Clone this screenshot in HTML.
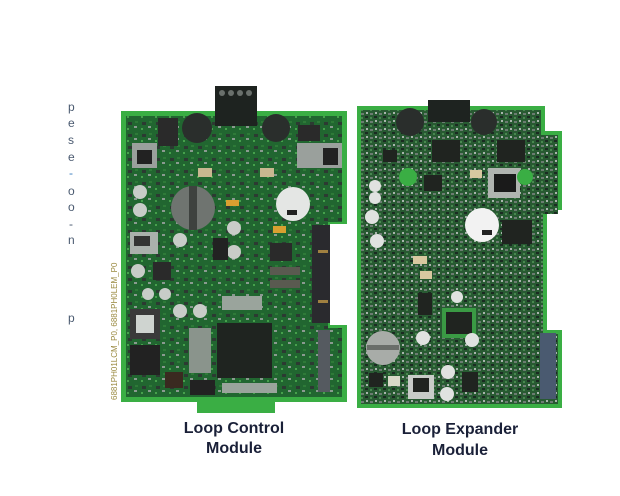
<!DOCTYPE html>
<html><head><meta charset="utf-8"><style>
html,body{margin:0;padding:0;background:#fff;}
svg{display:block;}
</style></head><body>
<svg width="620" height="496" viewBox="0 0 620 496" xmlns="http://www.w3.org/2000/svg">
<defs>
<pattern id="pa" width="14" height="12" patternUnits="userSpaceOnUse">
<rect width="14" height="12" fill="#216630"/>
<rect x="2" y="2" width="4" height="3" fill="#2c3a32"/>
<rect x="8" y="6" width="3" height="2" fill="#8a9a90"/>
<rect x="1" y="8" width="2" height="2" fill="#46a04c"/>
<rect x="9" y="1" width="3" height="2" fill="#2e7a38"/>
</pattern>
<pattern id="pb" width="9" height="8" patternUnits="userSpaceOnUse">
<rect width="9" height="8" fill="#285a32"/>
<rect x="1" y="1" width="3" height="2" fill="#6c7c72"/>
<rect x="5" y="4" width="3" height="2" fill="#1b2a22"/>
<rect x="1" y="5" width="2" height="2" fill="#48884f"/>
<rect x="6" y="0" width="2" height="2" fill="#a8b4ac"/>
</pattern>
</defs>

<g font-family="Liberation Sans, sans-serif" font-size="12" fill="#4a5a70">
<text x="68" y="111">p</text><text x="68" y="127">e</text><text x="68" y="144">s</text>
<text x="68" y="161">e</text><text x="69" y="177" fill="#3d7fc0">-</text><text x="68" y="195">o</text>
<text x="68" y="211">o</text><text x="69" y="228">-</text><text x="68" y="244">n</text>
<text x="68" y="322">p</text>
</g>
<text transform="translate(117,400) rotate(-90)" font-family="Liberation Sans, sans-serif" font-size="8" fill="#9a8a40">6881PH01LCM_P0, 6881PH0LEM_P0</text>

<!-- LEFT BOARD -->
<path d="M121 111 H347 V224 H330 V325 H347 V402 H275 V413 H197 V402 H121 Z" fill="#3aae44"/>
<path d="M126 116 H342 V222 H328 V328 H342 V397 H126 Z" fill="url(#pa)"/>
<rect x="215" y="86" width="42" height="40" fill="#1e2320"/>
<circle cx="222" cy="93" r="3" fill="#6a706c"/><circle cx="231" cy="93" r="3" fill="#6a706c"/>
<circle cx="240" cy="93" r="3" fill="#6a706c"/><circle cx="249" cy="93" r="3" fill="#6a706c"/>
<circle cx="197" cy="128" r="15" fill="#2a2e2c"/><circle cx="276" cy="128" r="14" fill="#2a2e2c"/>
<rect x="132" y="143" width="25" height="25" fill="#9aa09c"/><rect x="137" y="150" width="15" height="14" fill="#222"/>
<rect x="297" y="143" width="45" height="25" fill="#9aa09c"/><rect x="323" y="148" width="15" height="17" fill="#222"/>
<rect x="158" y="118" width="20" height="28" fill="#2a2a2a"/>
<rect x="298" y="125" width="22" height="16" fill="#2a2a2a"/>
<circle cx="193" cy="208" r="22" fill="#6f7470"/><rect x="189" y="186" width="8" height="44" fill="#3e423f"/>
<circle cx="293" cy="204" r="17" fill="#e4e6e4"/><rect x="287" y="210" width="10" height="5" fill="#222"/>
<rect x="226" y="200" width="13" height="6" fill="#d8a030"/><rect x="273" y="226" width="13" height="7" fill="#d8a030"/>
<rect x="198" y="168" width="14" height="9" fill="#c8b890"/><rect x="260" y="168" width="14" height="9" fill="#c8b890"/>
<circle cx="140" cy="192" r="7" fill="#c8ccc8"/><circle cx="140" cy="210" r="7" fill="#c8ccc8"/>
<circle cx="180" cy="240" r="7" fill="#c8ccc8"/><circle cx="234" cy="228" r="7" fill="#c8ccc8"/>
<circle cx="234" cy="252" r="7" fill="#c8ccc8"/><circle cx="138" cy="271" r="7" fill="#c8ccc8"/>
<circle cx="148" cy="294" r="6" fill="#c8ccc8"/><circle cx="165" cy="294" r="6" fill="#c8ccc8"/>
<circle cx="180" cy="311" r="7" fill="#c8ccc8"/><circle cx="200" cy="311" r="7" fill="#c8ccc8"/>
<rect x="130" y="232" width="28" height="22" fill="#aab0ac"/><rect x="134" y="236" width="16" height="10" fill="#333"/>
<rect x="153" y="262" width="18" height="18" fill="#2a2a2a"/>
<rect x="213" y="238" width="15" height="22" fill="#222"/>
<rect x="270" y="243" width="22" height="18" fill="#2a2a2a"/>
<rect x="270" y="267" width="30" height="8" fill="#5a5a50"/><rect x="270" y="280" width="30" height="8" fill="#5a5a50"/>
<rect x="312" y="225" width="18" height="98" fill="#2a2a2e"/>
<rect x="318" y="250" width="10" height="3" fill="#a08040"/><rect x="318" y="300" width="10" height="3" fill="#a08040"/>
<rect x="318" y="330" width="12" height="62" fill="#555a60"/>
<rect x="217" y="323" width="55" height="55" fill="#1f2420"/>
<rect x="222" y="296" width="40" height="14" fill="#9aa49c"/><rect x="222" y="383" width="55" height="10" fill="#9aa49c"/>
<rect x="189" y="328" width="22" height="45" fill="#8a948c"/>
<rect x="130" y="309" width="30" height="30" fill="#3a3a3a"/><rect x="136" y="315" width="18" height="18" fill="#cfd4d0"/>
<rect x="130" y="345" width="30" height="30" fill="#222"/>
<rect x="165" y="372" width="18" height="16" fill="#3a2a20"/>
<rect x="190" y="380" width="25" height="15" fill="#222"/>
<!-- RIGHT BOARD -->
<path d="M357 106 H545 V131 H562 V210 H547 V330 H562 V408 H357 Z" fill="#3aae44"/>
<path d="M361 110 H541 V135 H558 V214 H543 V334 H558 V404 H361 Z" fill="url(#pb)"/>
<rect x="428" y="100" width="42" height="22" fill="#1e2320"/>
<circle cx="410" cy="122" r="14" fill="#2a2e2c"/><circle cx="484" cy="122" r="13" fill="#2a2e2c"/>
<rect x="432" y="140" width="28" height="22" fill="#202420"/><rect x="497" y="140" width="28" height="22" fill="#202420"/>
<rect x="383" y="150" width="14" height="12" fill="#202420"/>
<rect x="488" y="168" width="32" height="30" fill="#b0b4b0"/><rect x="494" y="174" width="22" height="18" fill="#1a1a1a"/>
<circle cx="408" cy="177" r="9" fill="#3aae44"/><circle cx="525" cy="177" r="8" fill="#3aae44"/>
<rect x="470" y="170" width="12" height="8" fill="#d8c8a0"/>
<rect x="424" y="175" width="18" height="16" fill="#202420"/>
<circle cx="482" cy="225" r="17" fill="#f2f2f2"/><rect x="482" y="230" width="10" height="5" fill="#222"/>
<rect x="502" y="220" width="30" height="24" fill="#202420"/>
<circle cx="375" cy="186" r="6" fill="#e0e2e0"/><circle cx="375" cy="198" r="6" fill="#e0e2e0"/>
<circle cx="372" cy="217" r="7" fill="#e0e2e0"/><circle cx="377" cy="241" r="7" fill="#e0e2e0"/>
<rect x="413" y="256" width="14" height="8" fill="#d8c8a0"/><rect x="420" y="271" width="12" height="8" fill="#d8c8a0"/>
<rect x="442" y="308" width="34" height="30" fill="#3a9a44"/><rect x="446" y="312" width="26" height="22" fill="#202420"/>
<rect x="418" y="293" width="14" height="22" fill="#202420"/>
<circle cx="457" cy="297" r="6" fill="#e0e2e0"/><circle cx="423" cy="338" r="7" fill="#e0e2e0"/>
<circle cx="472" cy="340" r="7" fill="#e0e2e0"/><circle cx="448" cy="372" r="7" fill="#e0e2e0"/><circle cx="447" cy="394" r="7" fill="#e0e2e0"/>
<circle cx="383" cy="348" r="17" fill="#a8aca8"/><rect x="367" y="345" width="32" height="5" fill="#6a6e6a"/>
<rect x="408" y="375" width="26" height="24" fill="#c8ccc8"/><rect x="413" y="378" width="16" height="14" fill="#202420"/>
<rect x="369" y="373" width="14" height="14" fill="#202420"/><rect x="388" y="376" width="12" height="10" fill="#d8d8c8"/>
<rect x="540" y="333" width="16" height="66" fill="#4a5a70"/>
<rect x="462" y="372" width="16" height="20" fill="#202420"/>

<g font-family="Liberation Sans, sans-serif" font-size="16" font-weight="bold" fill="#1a2038" text-anchor="middle">
<text x="234" y="433">Loop Control</text>
<text x="234" y="453">Module</text>
<text x="460" y="434">Loop Expander</text>
<text x="460" y="455">Module</text>
</g>
</svg>
</body></html>
